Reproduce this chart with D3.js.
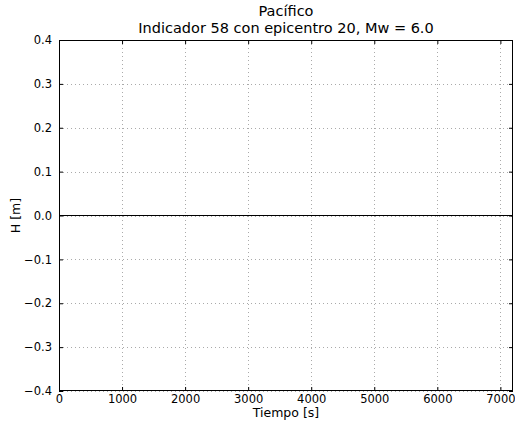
<!DOCTYPE html>
<html>
<head>
<meta charset="utf-8">
<script src="https://cdn.jsdelivr.net/npm/d3@7"></script>
<style>
  body { margin: 0; background: #fff; }
  svg text { font-family: "DejaVu Sans", sans-serif; fill: #000; }
</style>
</head>
<body>
<div id="chart"></div>
<script>
// data
var times = [0, 600, 1200, 1800, 2400, 3000, 3600, 4200, 4800, 5400, 6000, 6600, 7200];
var heights = [0, 0, 0, 0, 0, 0, 0, 0, 0, 0, 0, 0, 0];
var xTicks = [0, 1000, 2000, 3000, 4000, 5000, 6000, 7000];
var yTicks = [-0.4, -0.3, -0.2, -0.1, 0.0, 0.1, 0.2, 0.3, 0.4];
var titleLines = ['Pacífico', 'Indicador 58 con epicentro 20, Mw = 6.0'];

var W = 515, H = 425;
var margin = { left: 59, right: 2, top: 40, bottom: 34 };
var w = W - margin.left - margin.right, h = H - margin.top - margin.bottom;

var svg = d3.select('#chart').append('svg')
  .attr('width', W).attr('height', H);

var x = d3.scaleLinear().domain([0, 7200]).range([0, w]);
var y = d3.scaleLinear().domain([-0.4, 0.4]).range([h, 0]);

var g = svg.append('g').attr('transform', 'translate(' + margin.left + ',' + margin.top + ')');

// grid
g.selectAll('.gx').data(xTicks).enter().append('line')
  .attr('x1', function(d){ return Math.round(x(d)) + 0.5; })
  .attr('x2', function(d){ return Math.round(x(d)) + 0.5; })
  .attr('y1', 0).attr('y2', h)
  .attr('stroke', '#555').attr('stroke-width', 0.5).attr('stroke-dasharray', '1,3');
g.selectAll('.gy').data(yTicks).enter().append('line')
  .attr('y1', function(d){ return Math.round(y(d)) + 0.5; })
  .attr('y2', function(d){ return Math.round(y(d)) + 0.5; })
  .attr('x1', 0).attr('x2', w)
  .attr('stroke', '#555').attr('stroke-width', 0.5).attr('stroke-dasharray', '1,3');

// data line
var line = d3.line().x(function(d, i){ return x(times[i]); }).y(function(d){ return y(d); });
g.append('path').datum(heights)
  .attr('d', line).attr('fill', 'none').attr('stroke', '#000').attr('stroke-width', 1.2);

// axes, ticks inward
var fmtY = function(d){ return d3.format('.1f')(d).replace('-', '\u2212'); };
var fmtX = d3.format('d');
var axB = g.append('g').attr('transform', 'translate(0,' + h + ')')
  .call(d3.axisBottom(x).tickValues(xTicks).tickSizeInner(-4).tickSizeOuter(0).tickPadding(4).tickFormat(fmtX));
var axT = g.append('g')
  .call(d3.axisTop(x).tickValues(xTicks).tickSizeInner(-4).tickSizeOuter(0).tickFormat(''));
var axL = g.append('g')
  .call(d3.axisLeft(y).tickValues(yTicks).tickSizeInner(-4).tickSizeOuter(0).tickPadding(7).tickFormat(fmtY));
var axR = g.append('g').attr('transform', 'translate(' + w + ',0)')
  .call(d3.axisRight(y).tickValues(yTicks).tickSizeInner(-4).tickSizeOuter(0).tickFormat(''));

[axB, axT, axL, axR].forEach(function(a){
  a.select('.domain').remove();
  a.selectAll('line').attr('stroke', '#000');
  a.selectAll('text').style('font-family', '"DejaVu Sans", sans-serif').style('font-size', '11.5px');
});

g.append('rect').attr('x', 0.5).attr('y', 0.5).attr('width', w - 1).attr('height', h - 1)
  .attr('fill', 'none').attr('stroke', '#000').attr('stroke-width', 1);

// labels
svg.append('text').attr('x', margin.left + w / 2).attr('y', H - 8)
  .attr('text-anchor', 'middle').style('font-size', '12.5px').text('Tiempo [s]');
svg.append('text').attr('transform', 'translate(20,' + (margin.top + h / 2) + ') rotate(-90)')
  .attr('text-anchor', 'middle').style('font-size', '12.5px').text('H [m]');

svg.selectAll('.title').data(titleLines).enter().append('text')
  .attr('x', margin.left + w / 2)
  .attr('y', function(d, i){ return 16 + i * 17; })
  .attr('text-anchor', 'middle').style('font-size', '14.5px').text(function(d){ return d; });
</script>
</body>
</html>
